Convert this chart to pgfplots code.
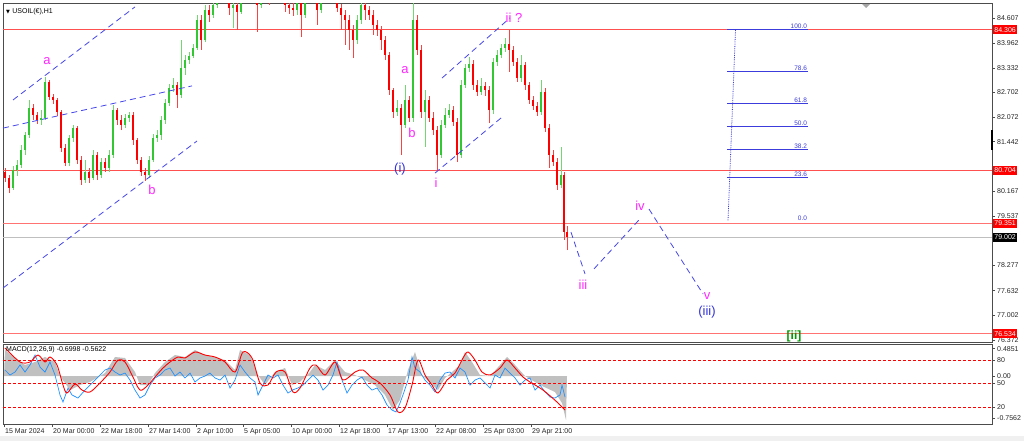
\documentclass[border=0pt]{standalone}
\usepackage{pgfplots}
\pgfplotsset{compat=1.18}
\usepackage{pgfplotstable}
\usepackage{fontspec}
\setmainfont{Liberation Sans}
\newfontfamily\symfont{DejaVu Sans}
\newcommand\fs[1]{\fontsize{#1}{#1}\selectfont}
\definecolor{upg}{RGB}{50,200,50}
\definecolor{dnr}{RGB}{255,0,0}
\definecolor{mag}{RGB}{255,40,255}
\definecolor{wblue}{RGB}{50,50,220}
\definecolor{dblue}{RGB}{70,70,235}
\definecolor{fibc}{RGB}{60,60,220}
\definecolor{hgray}{RGB}{192,192,192}
\definecolor{mblue}{RGB}{30,144,255}
\definecolor{lred}{RGB}{255,80,80}

\pgfplotstableread{
x o h l c
5 80.67 80.77 80.41 80.52
9 80.52 80.59 80.13 80.26
13 80.26 80.82 80.21 80.72
17 80.72 80.97 80.57 80.85
21 80.85 81.36 80.77 81.23
25 81.23 81.69 81.10 81.61
29 81.61 82.51 81.54 82.30
33 82.30 82.41 82.00 82.13
37 82.13 82.20 81.90 82.00
41 82.00 82.25 81.87 82.05
45 82.05 83.10 82.00 82.97
49 82.97 83.02 82.51 82.59
53 82.59 82.66 82.41 82.51
57 82.51 82.56 82.10 82.20
61 82.20 82.25 81.18 81.28
65 81.28 81.38 80.82 80.90
69 80.90 81.61 80.82 81.54
73 81.54 81.87 81.44 81.79
77 81.79 81.84 80.87 80.97
81 80.97 81.08 80.34 80.46
85 80.46 80.97 80.39 80.67
89 80.67 80.77 80.39 80.52
93 80.52 81.23 80.46 81.10
97 81.10 81.18 80.46 80.59
101 80.59 81.03 80.52 80.92
105 80.92 81.03 80.67 80.77
109 80.77 81.23 80.67 81.10
113 81.10 82.38 81.03 82.25
117 82.25 82.30 81.87 82.00
121 82.00 82.13 81.74 81.87
125 81.87 82.15 81.79 82.05
129 82.05 82.20 81.95 82.13
133 82.13 82.20 81.36 81.49
137 81.49 81.54 80.87 80.97
141 80.97 81.05 80.57 80.67
145 80.67 80.77 80.44 80.59
149 80.59 81.08 80.52 80.97
153 80.97 81.64 80.92 81.54
157 81.54 81.74 81.44 81.61
161 81.61 82.10 81.49 82.00
165 82.00 82.54 81.90 82.43
169 82.43 82.92 82.36 82.82
173 82.82 83.07 82.72 82.89
177 82.89 82.97 82.30 82.64
181 82.64 84.04 82.56 83.33
185 83.33 83.66 83.15 83.53
189 83.53 83.74 83.43 83.64
193 83.64 83.94 83.58 83.84
197 83.84 84.68 83.79 84.56
201 84.56 84.68 83.79 84.04
205 84.04 84.94 83.99 84.81
209 84.81 84.94 84.50 84.68
213 84.68 85.12 84.61 84.94
217 84.94 85.45 84.86 85.32
221 85.32 85.71 85.19 85.58
225 85.58 85.71 85.07 85.19
229 85.19 85.27 84.68 84.86
233 84.86 85.07 84.35 84.94
237 84.94 85.02 84.30 84.76
241 84.76 85.45 84.71 85.32
245 85.32 85.83 85.19 85.71
249 85.71 85.83 85.32 85.45
253 85.45 85.58 85.07 85.19
257 85.19 85.27 84.25 84.94
261 84.94 85.32 84.86 85.19
265 85.19 85.71 85.07 85.58
269 85.58 85.71 84.94 85.32
273 85.32 85.96 85.19 85.83
277 85.83 86.22 85.71 86.09
281 86.09 86.22 85.58 85.71
285 85.71 85.78 84.76 84.94
289 84.94 85.07 84.71 84.86
293 84.86 84.99 84.66 84.81
297 84.81 85.12 84.68 84.99
301 84.99 85.07 84.12 84.68
305 84.68 85.32 84.61 85.19
309 85.19 85.58 85.07 85.45
313 85.45 85.58 85.07 85.19
317 85.19 85.27 84.43 84.81
321 84.81 85.32 84.73 85.19
325 85.19 85.71 85.07 85.58
329 85.58 85.71 85.19 85.32
333 85.32 85.45 85.07 85.19
337 85.19 85.27 84.76 84.86
341 84.86 84.96 84.30 84.68
345 84.68 84.81 83.92 84.56
349 84.56 84.68 83.79 84.30
353 84.30 84.43 83.58 84.04
357 84.04 84.68 83.94 84.56
361 84.56 85.07 84.45 84.94
365 84.94 85.07 84.56 84.81
369 84.81 84.91 84.56 84.68
373 84.68 84.81 84.17 84.43
377 84.43 84.56 84.15 84.30
381 84.30 84.40 83.79 84.04
385 84.04 84.15 83.53 83.66
389 83.66 83.74 82.64 82.77
393 82.77 82.82 82.05 82.20
397 82.20 82.51 82.10 82.30
401 82.30 82.41 81.10 81.87
405 81.87 82.89 81.79 82.51
409 82.51 82.61 81.95 82.05
413 82.05 85.19 81.95 84.56
417 84.56 84.68 83.66 83.79
421 83.79 83.92 82.05 82.20
425 82.20 82.77 81.31 82.51
429 82.51 82.61 81.95 82.05
433 82.05 82.20 81.61 81.74
437 81.74 81.84 80.72 81.10
441 81.10 82.00 81.03 81.87
445 81.87 82.30 81.79 82.13
449 82.13 82.41 82.05 82.25
453 82.25 82.36 81.84 81.95
457 81.95 82.05 80.92 81.10
461 81.10 83.02 81.03 82.89
465 82.89 83.43 82.82 83.33
469 83.33 83.61 83.23 83.43
473 83.43 83.53 82.77 82.89
477 82.89 83.02 82.61 82.72
481 82.72 83.07 82.64 82.87
485 82.87 82.97 82.61 82.77
489 82.77 82.87 81.92 82.25
493 82.25 83.58 82.15 83.48
497 83.48 83.79 83.38 83.66
501 83.66 83.94 83.58 83.84
505 83.84 84.10 83.74 83.94
509 83.94 84.30 83.23 83.79
513 83.79 83.89 83.38 83.48
517 83.48 83.58 82.97 83.07
521 83.07 83.66 82.97 83.40
525 83.40 83.48 82.77 82.89
529 82.89 82.97 82.41 82.51
533 82.51 82.61 82.25 82.36
537 82.36 82.46 82.10 82.20
541 82.20 83.02 82.13 82.72
545 82.72 82.82 81.69 81.79
549 81.79 81.90 80.77 81.10
553 81.10 81.23 80.82 80.92
557 80.92 81.03 80.21 80.34
561 80.34 81.31 80.26 80.59
564 80.59 80.67 78.93 79.13
567 79.13 79.29 78.67 79.01
}\candles

\begin{document}
\begin{tikzpicture}
\useasboundingbox (0pt,0pt) rectangle (1024pt,441pt);
\fill[white] (0pt,0pt) rectangle (1024pt,441pt);
\fill[black!6] (0pt,0pt) rectangle (1024pt,5pt);

% ---------------- main price panel ----------------
\begin{axis}[
  at={(3pt,99pt)}, anchor=south west, scale only axis,
  width=989pt, height=338.5pt,
  xmin=3, xmax=992, ymin=76.32, ymax=84.977,
  axis line style={draw=black!70, line width=0.8pt},
  xtick=\empty,
  ytick={84.607,83.962,83.332,82.702,82.072,81.442,80.797,80.167,79.537,78.907,78.277,77.632,77.002,76.372},
  yticklabels={84.607,83.962,83.332,82.702,82.072,81.442,,80.167,79.537,,78.277,77.632,77.002,76.372},
  ytick pos=right, yticklabel pos=right,
  tick align=outside, major tick length=3pt,
  every tick/.style={black!70, line width=0.5pt},
  yticklabel style={font=\fs{7}, text=black!85, inner sep=1pt, xshift=1pt},
]
% horizontal lines
\addplot[lred, line width=0.9pt] coordinates {(3,84.306) (992,84.306)};
\addplot[lred, line width=0.9pt] coordinates {(3,80.704) (992,80.704)};
\addplot[lred!80, line width=1.5pt] coordinates {(3,79.351) (992,79.351)};
\addplot[black!25, line width=0.8pt] coordinates {(3,79.002) (992,79.002)};
\addplot[lred!80, line width=1.5pt] coordinates {(3,76.534) (992,76.534)};

% candles: wicks
\addplot[upg!70, line width=0.8pt, -, quiver={u=0, v={\thisrow{h}-\thisrow{l}}}, restrict y to domain=65:100]
  table[x=x, y expr={\thisrow{c}<\thisrow{o} ? 60 : \thisrow{l}}]{\candles};
\addplot[dnr!75, line width=0.8pt, -, quiver={u=0, v={\thisrow{h}-\thisrow{l}}}, restrict y to domain=65:100]
  table[x=x, y expr={\thisrow{c}<\thisrow{o} ? \thisrow{l} : 60}]{\candles};
% candles: bodies
\addplot[upg, line width=2.5pt, -, quiver={u=0, v={max(\thisrow{c}-\thisrow{o},0.02)}}, restrict y to domain=65:100]
  table[x=x, y expr={\thisrow{c}<\thisrow{o} ? 60 : \thisrow{o}}]{\candles};
\addplot[dnr, line width=2.5pt, -, quiver={u=0, v={\thisrow{o}-\thisrow{c}}}, restrict y to domain=65:100]
  table[x=x, y expr={\thisrow{c}<\thisrow{o} ? \thisrow{c} : 60}]{\candles};

% dashed channel lines
\addplot[dblue, line width=0.8pt, dash pattern=on 6pt off 4pt] coordinates {(13,82.51) (135,84.89)};
\addplot[dblue, line width=0.8pt, dash pattern=on 6pt off 4pt] coordinates {(3,81.79) (192,82.87)};
\addplot[dblue, line width=0.8pt, dash pattern=on 6pt off 4pt] coordinates {(3,77.70) (197,81.46)};
\addplot[dblue, line width=0.8pt, dash pattern=on 6pt off 4pt] coordinates {(442,83.07) (510,84.61)};
\addplot[dblue, line width=0.8pt, dash pattern=on 6pt off 4pt] coordinates {(435,80.64) (502,82.07)};
\addplot[dblue, line width=0.8pt, dash pattern=on 6pt off 4pt] coordinates {(571,79.13) (585,78.06)};
\addplot[dblue, line width=0.8pt, dash pattern=on 6pt off 4pt] coordinates {(594,78.19) (640,79.47)};
\addplot[dblue, line width=0.8pt, dash pattern=on 6pt off 4pt] coordinates {(649,79.72) (703,77.55)};

% fibonacci
\addplot[fibc, line width=0.8pt, densely dotted] coordinates {(735.5,84.30) (728,79.42)};
\addplot[fibc, line width=1pt] coordinates {(727,84.306) (808,84.306)};
\addplot[fibc, line width=0.8pt] coordinates {(727,83.246) (808,83.246)};
\addplot[fibc, line width=0.8pt] coordinates {(727,82.413) (808,82.413)};
\addplot[fibc, line width=0.8pt] coordinates {(727,81.829) (808,81.829)};
\addplot[fibc, line width=0.8pt] coordinates {(727,81.244) (808,81.244)};
\addplot[fibc, line width=0.8pt] coordinates {(727,80.520) (808,80.520)};
\begin{scope}[every node/.style={anchor=south east, text=fibc, font=\fs{6.5}, inner sep=0.8pt}]
\node at (axis cs:808,84.306) {100.0};
\node at (axis cs:808,83.246) {78.6};
\node at (axis cs:808,82.413) {61.8};
\node at (axis cs:808,81.829) {50.0};
\node at (axis cs:808,81.244) {38.2};
\node at (axis cs:808,80.520) {23.6};
\node at (axis cs:808,79.40) {0.0};
\end{scope}

% wave labels
\begin{scope}[every node/.style={text=mag, font=\fs{13}, inner sep=0pt}]
\node at (axis cs:47,83.51) {a};
\node at (axis cs:152,80.21) {b};
\node at (axis cs:405,83.28) {a};
\node at (axis cs:412,81.67) {b};
\node at (axis cs:436,80.39) {i};
\node at (axis cs:514,84.62) {ii ?};
\node at (axis cs:583,77.78) {iii};
\node at (axis cs:640,79.80) {iv};
\node at (axis cs:707,77.50) {v};
\end{scope}
\node[text=wblue, font=\fs{13}, inner sep=0pt] at (axis cs:400,80.74) {(i)};
\node[text=wblue, font=\fs{13}, inner sep=0pt] at (axis cs:707,77.09) {(iii)};
\node[text=green!60!black, font=\bfseries\fs{12}, inner sep=0pt] at (axis cs:794,76.47) {[ii]};

\node[anchor=west, font=\fs{7}, inner sep=0pt] at (axis cs:6,84.77) {{\symfont\fs{5}▼}\,\,USOIL(€),H1};

\coordinate (R1) at (axis cs:992,84.306);
\coordinate (R2) at (axis cs:992,80.704);
\coordinate (R3) at (axis cs:992,79.351);
\coordinate (R4) at (axis cs:992,79.002);
\coordinate (R5) at (axis cs:992,76.534);
\coordinate (BK1) at (axis cs:992,81.74);
\coordinate (BK2) at (axis cs:992,81.23);
\end{axis}

\begin{scope}[every node/.style={anchor=west, font=\fs{7}, inner sep=1.2pt, text=white, minimum height=9pt}]
\node[fill=red] at ([xshift=1pt]R1) {84.306};
\node[fill=red] at ([xshift=1pt]R2) {80.704};
\node[fill=red] at ([xshift=1pt]R3) {79.351};
\node[fill=black] at ([xshift=1pt]R4) {79.002};
\node[fill=red] at ([xshift=1pt]R5) {76.534};
\end{scope}
\draw[black, line width=2.5pt] (BK1) -- (BK2);
\fill[black!35] (862pt,437pt) -- (870pt,437pt) -- (866pt,433pt) -- cycle;

% ---------------- MACD panel ----------------
\begin{axis}[
  at={(3pt,17pt)}, anchor=south west, scale only axis,
  width=989pt, height=80pt,
  xmin=3, xmax=992, ymin=-1.66, ymax=100.5,
  axis line style={draw=black!70, line width=0.8pt},
  xtick={4,52,100,148,196,243,291,339,387,435,483,531},
  xticklabels={15 Mar 2024,20 Mar 00:00,22 Mar 18:00,27 Mar 14:00,2 Apr 10:00,5 Apr 05:00,10 Apr 00:00,12 Apr 18:00,17 Apr 13:00,22 Apr 08:00,25 Apr 03:00,29 Apr 21:00},
  xtick pos=bottom,
  xticklabel style={anchor=north west, font=\fs{7}, text=black!85, inner sep=1pt, xshift=0pt},
  ytick={94.5,80,59.6,50,20,6},
  yticklabels={0.4851,80,0.00,50,20,-0.7562},
  ytick pos=right, yticklabel pos=right,
  tick align=outside, major tick length=3pt,
  every tick/.style={black!70, line width=0.5pt},
  yticklabel style={font=\fs{7}, text=black!85, inner sep=1pt, xshift=1pt},
]
\addplot[fill=hgray, draw=none] coordinates {
(4,59.6)(5,92.8)(15,82.6)(25,73.7)(35,77.5)(45,83.9)(55,77.5)(60,59.6)(65,50.7)(70,41.7)(80,48.1)(90,52.0)(100,59.6)(105,63.4)(115,83.9)(125,82.6)(135,64.7)(140,48.1)(148,48.1)(155,63.4)(165,77.5)(175,86.4)(185,83.9)(195,92.8)(205,86.4)(215,83.9)(225,80.0)(235,67.3)(240,92.8)(250,86.4)(258,60.9)(265,48.1)(275,64.7)(285,69.8)(292,48.1)(300,52.0)(310,64.7)(315,73.7)(325,67.3)(335,80.0)(345,64.7)(355,60.9)(365,54.5)(375,48.1)(385,35.4)(393,16.2)(400,29.0)(408,67.3)(415,90.3)(422,60.9)(430,50.7)(438,41.7)(445,57.1)(452,64.7)(460,73.7)(465,90.3)(472,77.5)(480,60.9)(490,59.6)(500,73.7)(507,83.9)(515,73.7)(525,59.6)(540,48.1)(555,39.2)(562,25)(566,3.4)(567,59.6)};
\addplot[dnr, line width=0.7pt, dash pattern=on 3pt off 2pt] coordinates {(3,80) (992,80)};
\addplot[dnr, line width=0.7pt, dash pattern=on 3pt off 2pt] coordinates {(3,50) (992,50)};
\addplot[dnr, line width=0.7pt, dash pattern=on 3pt off 2pt] coordinates {(3,20) (992,20)};
\addplot[mblue, line width=0.7pt] coordinates {
(5,67.3)(10,60.9)(15,64.7)(20,73.7)(25,64.7)(30,73.7)(35,86.4)(40,71.1)(45,64.7)(50,77.5)(55,60.9)(60,35.4)(63,26.4)(68,44.3)(72,35.4)(78,31.5)(85,41.7)(90,48.1)(95,54.5)(100,60.9)(105,67.3)(110,69.8)(115,64.7)(120,60.9)(125,63.4)(130,54.5)(135,41.7)(140,31.5)(145,35.4)(150,48.1)(155,57.1)(160,60.9)(165,67.3)(170,69.8)(175,59.6)(180,64.7)(185,57.1)(190,63.4)(195,52.0)(200,57.1)(205,59.6)(210,63.4)(215,57.1)(220,54.5)(225,60.9)(230,44.3)(235,54.5)(240,73.7)(245,64.7)(250,57.1)(255,52.0)(258,35.4)(263,48.1)(268,60.9)(273,57.1)(278,60.9)(283,48.1)(288,37.9)(293,42.1)(298,44.3)(303,48.1)(308,54.5)(313,60.9)(318,54.5)(323,41.7)(328,48.1)(333,60.9)(337,77.5)(342,54.5)(347,37.9)(352,48.1)(357,54.5)(362,58.3)(367,48.1)(372,41.7)(377,44.3)(382,35.4)(387,22.6)(392,16.2)(396,13.7)(400,25.1)(404,39.2)(408,54.5)(412,83.9)(415,69.8)(420,64.7)(425,54.5)(430,48.1)(435,39.2)(440,54.5)(445,63.4)(450,64.7)(455,57.1)(460,69.8)(465,64.7)(470,48.1)(475,54.5)(480,57.1)(485,50.7)(490,44.3)(495,60.9)(500,57.1)(505,69.8)(510,63.4)(515,57.1)(520,48.1)(525,54.5)(530,57.1)(535,41.7)(540,48.1)(545,39.2)(550,32.8)(555,31.5)(560,35.4)(562,48.1)(565,32.8)};
\addplot[dnr, line width=0.9pt, smooth] coordinates {
(5,95.4)(20,77.5)(30,77.5)(38,86.4)(45,77.5)(50,83.9)(57,73.7)(63,48.1)(67,37.9)(75,49.4)(82,41.7)(90,39.2)(100,50.7)(110,64.7)(118,80.0)(125,77.5)(132,60.9)(140,41.7)(148,48.1)(155,58.3)(163,69.8)(170,77.5)(178,83.9)(185,82.6)(195,90.3)(205,86.4)(215,83.9)(225,77.5)(235,64.7)(243,90.3)(252,82.6)(260,50.7)(268,48.1)(276,64.7)(285,64.7)(293,39.2)(300,44.3)(310,69.8)(316,73.7)(325,60.9)(335,77.5)(343,54.5)(355,64.7)(363,67.3)(372,57.1)(380,50.7)(390,35.4)(398,13.7)(405,18.8)(412,48.1)(418,80.0)(425,60.9)(432,48.1)(438,37.9)(447,54.5)(455,63.4)(463,82.6)(468,90.3)(475,80.0)(482,64.7)(490,60.9)(500,69.8)(507,80.0)(515,69.8)(523,58.3)(530,52.0)(543,41.7)(557,26.4)(565,16.2)};
\node[anchor=west, font=\fs{7}, inner sep=0pt] at (axis cs:6,92.8) {MACD(12,26,9) -0.6998 -0.5622};
\end{axis}
\end{tikzpicture}
\end{document}
